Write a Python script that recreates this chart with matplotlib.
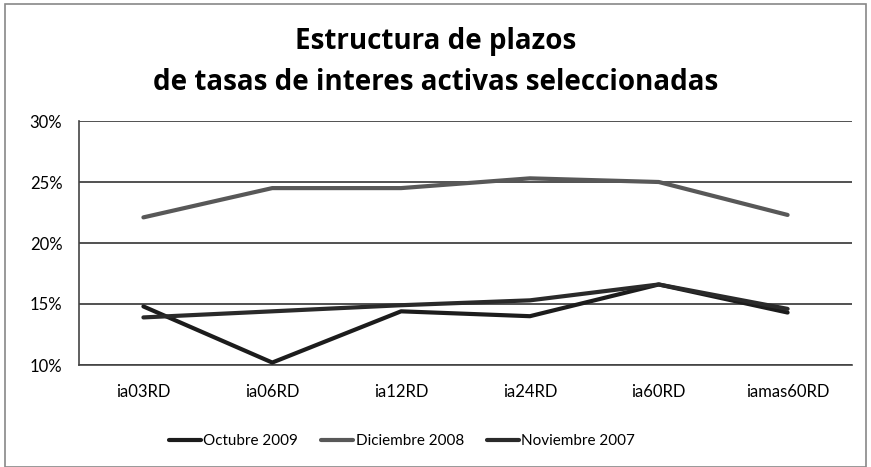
import matplotlib.pyplot as plt
from matplotlib.patches import Rectangle
from matplotlib.ticker import FuncFormatter

categories = ['ia03RD', 'ia06RD', 'ia12RD', 'ia24RD', 'ia60RD', 'iamas60RD']
oct_2009 = [14.8, 10.2, 14.4, 14.0, 16.6, 14.3]
dic_2008 = [22.1, 24.5, 24.5, 25.3, 25.0, 22.3]
nov_2007 = [13.9, 14.4, 14.9, 15.3, 16.6, 14.6]

plt.rcParams['font.family'] = ['Lato', 'DejaVu Sans']

fig = plt.figure(figsize=(8.71, 4.67), dpi=100)
ax = fig.add_axes([79 / 871, 1 - 365 / 467, (852 - 79) / 871, (365 - 121) / 467])

x = list(range(len(categories)))
ax.plot(x, oct_2009, color='#1c1c1c', lw=3, label='Octubre 2009', solid_capstyle='round', zorder=3)
ax.plot(x, dic_2008, color='#585858', lw=3, label='Diciembre 2008', solid_capstyle='round', zorder=3)
ax.plot(x, nov_2007, color='#2a2a2a', lw=3, label='Noviembre 2007', solid_capstyle='round', zorder=3)

ax.set_xlim(-0.5, len(categories) - 0.5)
ax.set_ylim(10, 30)
ax.set_yticks([10, 15, 20, 25, 30])
ax.yaxis.set_major_formatter(FuncFormatter(lambda v, p: f'{v:.0f}%'))
ax.set_xticks(x)
ax.set_xticklabels(categories)
ax.tick_params(length=0, labelsize=12, colors='black')
ax.tick_params(axis='x', pad=14)
ax.tick_params(axis='y', pad=12)
ax.grid(axis='y', color='#333333', lw=1.2)
for s in ['top', 'right']:
    ax.spines[s].set_visible(False)
ax.spines['left'].set_color('#444444')
ax.spines['bottom'].set_color('#444444')
ax.spines['left'].set_linewidth(1.2)
ax.spines['bottom'].set_linewidth(1.2)

fig.text(0.5, 1 - 42 / 467, 'Estructura de plazos', ha='center', va='center',
         fontsize=20, fontweight='bold', family=['Open Sans', 'DejaVu Sans'])
fig.text(0.5, 1 - 82 / 467, 'de tasas de interes activas seleccionadas', ha='center', va='center',
         fontsize=20, fontweight='bold', family=['Open Sans', 'DejaVu Sans'])

fig.legend(loc='center', bbox_to_anchor=(402 / 871, 1 - 441 / 467), ncol=3, frameon=False,
           fontsize=11, handlelength=2.1, handletextpad=0.15, columnspacing=1.5)

fig.patches.append(Rectangle((5 / 871, 0), 861 / 871, 1 - 4 / 467, transform=fig.transFigure,
                             fill=False, edgecolor='#888888', lw=1.2))

fig.savefig('out.png', dpi=100)
